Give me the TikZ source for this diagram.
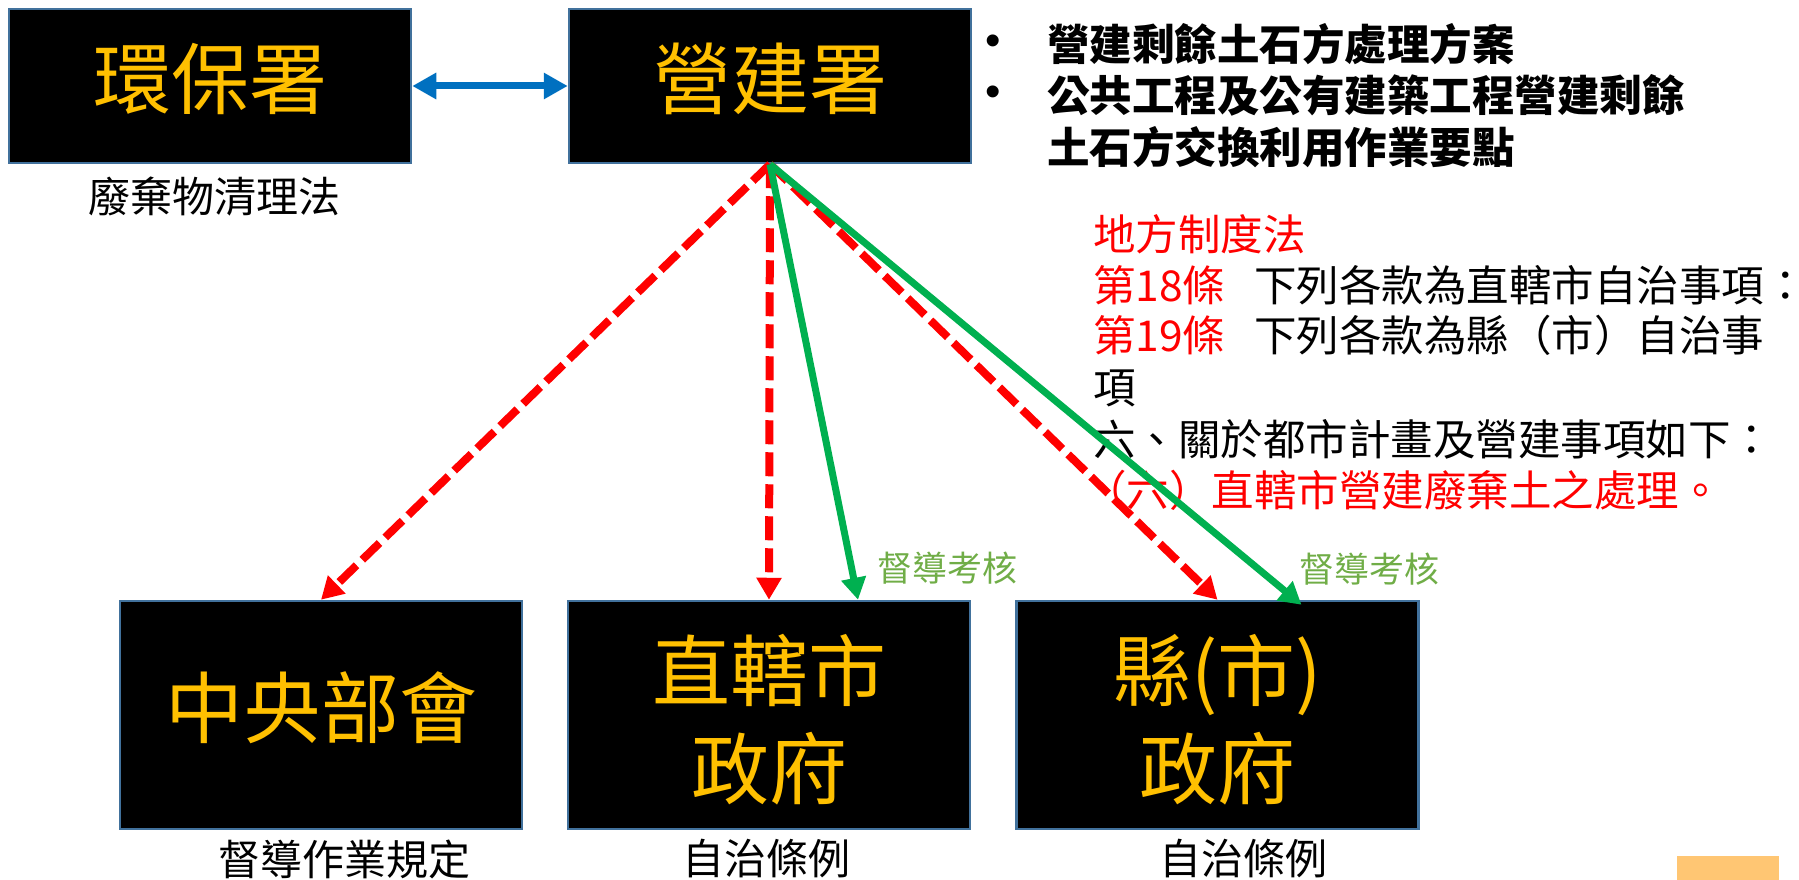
\documentclass[tikz,border=0pt]{standalone}
\usepackage{fontspec}
\setmainfont{Noto Sans CJK TC}
\newfontfamily\bulletfont{Liberation Sans}
\usetikzlibrary{arrows.meta}
\definecolor{boxyellow}{RGB}{255,192,0}
\definecolor{boxblue}{RGB}{65,113,156}
\definecolor{arrred}{RGB}{255,0,0}
\definecolor{arrgreen}{RGB}{0,176,80}
\definecolor{arrblue}{RGB}{0,112,192}
\definecolor{lblgreen}{RGB}{112,173,71}
\definecolor{tagorange}{RGB}{255,198,115}
\begin{document}
\begin{tikzpicture}[x=1pt,y=-1pt,
  orgbox/.style={draw=boxblue,line width=2.5pt,fill=black,text=boxyellow,
    minimum width=402pt,inner sep=0pt,align=center,
    font=\fontsize{78}{98}\selectfont},
  smallbox/.style={orgbox,minimum height=154pt,text height=65pt,text depth=20pt},
  bigbox/.style={orgbox,minimum height=228pt},
  undertext/.style={inner sep=0pt,text=black,font=\fontsize{42}{50}\selectfont},
  lawline/.style={inner sep=0pt,anchor=base west,text=black,font=\fontsize{42.5}{51}\selectfont},
  bulletline/.style={inner sep=0pt,anchor=base west,text=black,font=\fontsize{42.5}{51}\selectfont\bfseries},
  bulletdot/.style={inner sep=0pt,text=black,font=\bulletfont\fontsize{44}{44}\selectfont},
  checklabel/.style={inner sep=0pt,text=lblgreen,font=\fontsize{35}{40}\selectfont},
  reddash/.style={draw=arrred,line width=8pt,dash pattern=on 24pt off 8pt,
    -{Triangle[length=22pt,width=24pt]}},
  greenarrow/.style={draw=arrgreen,line width=7pt,
    -{Triangle[length=22pt,width=24pt]}},
  bluearrow/.style={draw=arrblue,line width=7pt,
    {Triangle[length=24pt,width=25pt]}-{Triangle[length=24pt,width=25pt]}}
]
\useasboundingbox (0,0) rectangle (1799,880);

% boxes
\node[smallbox] (hb) at (210,86) {環保署};
\node[smallbox] (yj) at (770,86) {營建署};
\node[bigbox,text height=65pt,text depth=20pt] (zy) at (321,715) {中央部會};
\node[bigbox] (zx) at (769,715) {\rule{0pt}{75pt}直轄市\\政府};
\node[bigbox] (xs) at (1217.5,715) {\rule{0pt}{75pt}縣(市)\\政府};

% texts under boxes
\node[undertext] (hbnote) at (214.5,197) {廢棄物清理法};
\node[undertext] (zynote) at (344,859) {督導作業規定};
\node[undertext] (zxnote) at (766,859) {自治條例};
\node[undertext] (xsnote) at (1243,859) {自治條例};

% bullet list
\node[bulletdot] (b1) at (993,45) {•};
\node[bulletdot] (b2) at (993,96) {•};
\node[bulletline] (l1) at (1047,61) {營建剩餘土石方處理方案};
\node[bulletline] (l2) at (1047,112) {公共工程及公有建築工程營建剩餘};
\node[bulletline] (l3) at (1047,163.5) {土石方交換利用作業要點};

% law text
\node[lawline] (r1) at (1093,250) {\color{arrred}地方制度法};
\node[lawline] (r2) at (1093,301) {{\color{arrred}第18條}\hspace{29pt}下列各款為直轄市自治事項：};
\node[lawline] (r3) at (1093,351) {{\color{arrred}第19條}\hspace{29pt}下列各款為縣（市）自治事};
\node[lawline] (r4) at (1093,403.5) {項};
\node[lawline] (r5) at (1093,455) {六、關於都市計畫及營建事項如下：};
\node[lawline] (r6) at (1084,506) {\color{arrred}（六）直轄市營建廢棄土之處理。};

% labels on green arrows
\node[checklabel] (c1) at (947,568) {督導考核};
\node[checklabel] (c2) at (1369,569) {督導考核};

% orange tag
\node[fill=tagorange,minimum width=102pt,minimum height=24pt,inner sep=0pt] (tag) at (1728,868) {};

% connectors
\draw[bluearrow] (hb.east) -- (yj.west);
\draw[reddash] (yj.south) -- (zy.north);
\draw[reddash] (yj.south) -- (zx.north);
\draw[reddash] (yj.south) -- (xs.north);
\draw[greenarrow] (yj.south) -- ([xshift=89pt]zx.north);
\draw[greenarrow] (yj.south) -- ([xshift=84pt,yshift=-5pt]xs.north);
\end{tikzpicture}
\end{document}
